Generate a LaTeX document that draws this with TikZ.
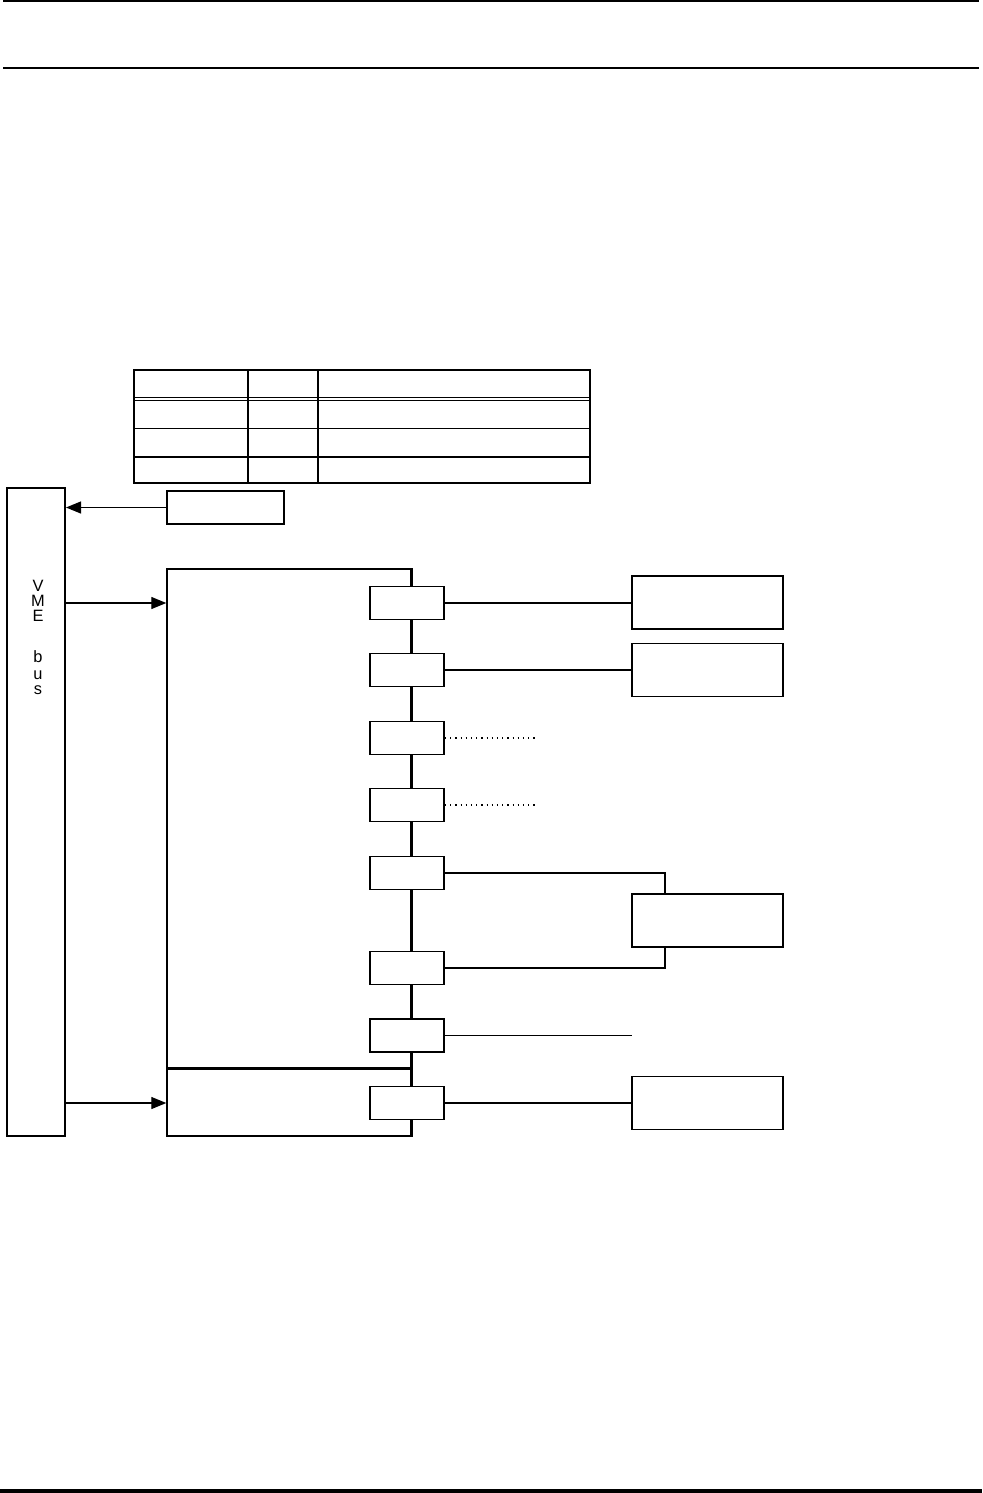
\documentclass[tikz,border=0pt]{standalone}
\usepackage{fontspec}
\setmainfont{Liberation Sans}
\usetikzlibrary{positioning,arrows.meta}

\begin{document}
\begin{tikzpicture}[
    x=0.5pt, y=-0.5pt,
    box/.style={draw, line width=0.7pt, fill=white, inner sep=0pt},
    port/.style={box, line width=0.9pt, minimum width=37pt, minimum height=16.5pt},
    dev/.style={box, minimum width=75.5pt, minimum height=26.5pt},
    bus/.style={line width=1.3pt},
    link/.style={line width=0.6pt},
    arr/.style={-{Triangle[length=7.5pt,width=6pt]}, line width=0.6pt}
]
\useasboundingbox (0,0) rectangle (982,1493);

% page rules
\draw[line width=1pt] (3,1) -- (979,1);
\draw[line width=0.8pt] (3,68) -- (979,68);
\draw[line width=2pt] (0,1491) -- (982,1491);

% table
\draw[line width=1pt] (134,370) rectangle (590,483);
\draw[line width=0.5pt] (134,397) -- (590,397) (134,400) -- (590,400);
\draw[line width=0.6pt] (134,428.5) -- (590,428.5);
\draw[line width=1pt] (134,456.5) -- (590,456.5);
\draw[line width=0.9pt] (247.7,370) -- (247.7,483) (318.3,370) -- (318.3,483);

% VME bus
\node[box, line width=1pt, minimum width=29pt, minimum height=324pt] (vme) at (36,812) {};
\node[anchor=north, inner sep=0pt, align=center,
      font={\fontsize{8.2}{7.4}\selectfont\lineskiplimit=-5pt\relax}] (vmelbl) at (38,580)
      {V\\M\\E\\[13.4pt]b\\[1.1pt]u\\[0.1pt]s};

\node[box, minimum width=58.5pt, minimum height=16.5pt] (irq) at (225.5,507.5) {};

% board
\node[box, minimum width=122pt, minimum height=250pt] (ctrl) at (289,819) {};
\node[box, minimum width=122pt, minimum height=33.5pt] (aux) at (289,1102.5) {};
\draw[bus] (aux.north west) -- (aux.north east);
\draw[bus] (ctrl.north east) -- (aux.south east);

\foreach \n/\y in {1/603,2/670,3/738,4/805,5/873,6/968,7/1035.5,8/1103}
  \node[port] (p\n) at (407,\y) {};

% devices
\node[dev] (devA) at (707.5,602.5) {};
\node[dev] (devB) at (707.5,670) {};
\node[dev] (devC) at (707.5,920.5) {};
\node[dev] (devD) at (707.5,1103) {};

\coordinate (n3) at (537,738);
\coordinate (n4) at (537,805);
\coordinate (n7) at (632,1035.5);

\draw[link] (p1.east) -- (p1.east -| devA.west);
\draw[link] (p2.east) -- (devB.west);
\draw[link, dotted] (p3.east) -- (n3);
\draw[link, dotted] (p4.east) -- (n4);
\draw[line width=1pt] (p5.east) -| ([xshift=-21.25pt]devC.north);
\draw[line width=0.7pt] (p6.east) -| ([xshift=-21.25pt]devC.south);
\draw[link] (p7.east) -- (n7);
\draw[link] (p8.east) -- (devD.west);

\draw[arr] (irq.west) -- (irq.west -| vme.east);
\draw[arr] (vme.east |- p1) -- (ctrl.west |- p1);
\draw[arr] (vme.east |- p8) -- (aux.west |- p8);
\end{tikzpicture}
\end{document}
